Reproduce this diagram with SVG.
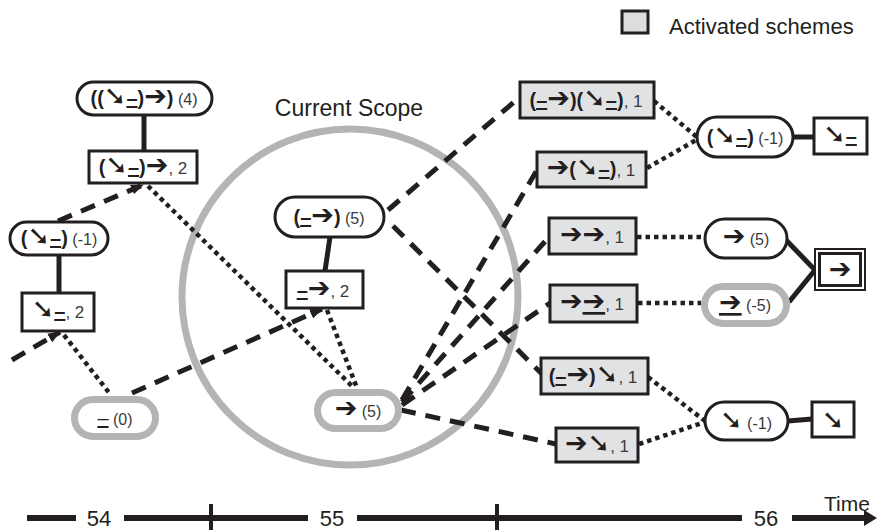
<svg xmlns="http://www.w3.org/2000/svg" width="877" height="530" viewBox="0 0 877 530">
<defs>
<style>
text{font-family:'Liberation Sans','DejaVu Sans',sans-serif;fill:#231f20}
.s{font-weight:bold;font-size:20px}
.a{font-family:'DejaVu Sans',sans-serif;font-weight:bold;font-size:27px}
.n{font-size:16px;fill:#3a3a3a}
.c{font-size:17px;fill:#3a3a3a}
.pill{fill:#fff;stroke:#231f20;stroke-width:3}
.gpill{fill:#fff;stroke:#b3b4b6;stroke-width:7}
.box{fill:#fff;stroke:#231f20;stroke-width:3}
.act{fill:#e1e2e4;stroke:#231f20;stroke-width:3}
.solid{stroke:#231f20;stroke-width:5;fill:none}
.dash{stroke:#231f20;stroke-width:5;stroke-dasharray:15 10;fill:none}
.dot{stroke:#231f20;stroke-width:4.5;stroke-dasharray:4.5 4;fill:none}
.tl{stroke:#231f20;stroke-width:6}
.big{font-size:22px}
</style>
<marker id="ah" markerUnits="userSpaceOnUse" markerWidth="14" markerHeight="12" refX="12" refY="6" orient="auto">
<path d="M0,1 L13,6 L0,11 z" fill="#231f20"/>
</marker>
</defs>

<g id="legend">
<rect x="622" y="11" width="26" height="22" fill="#dcdddf" stroke="#231f20" stroke-width="3"/>
<text x="669" y="34" class="big">Activated schemes</text>
</g>

<g id="scope">
<circle cx="350" cy="297" r="168" fill="none" stroke="#b3b4b6" stroke-width="7"/>
<text x="349" y="116" class="big" text-anchor="middle" style="font-size:23px">Current Scope</text>
</g>

<g id="connectors">
<line class="solid" x1="144" y1="115" x2="144" y2="151"/>
<line class="solid" x1="59" y1="255" x2="59" y2="293"/>
<line class="solid" x1="330" y1="237" x2="325" y2="271"/>
<line class="solid" x1="793" y1="137" x2="814" y2="137"/>
<line class="solid" x1="786" y1="240" x2="815" y2="270"/>
<line class="solid" x1="789" y1="302" x2="815" y2="270"/>
<line class="solid" x1="788" y1="421" x2="812" y2="419"/>

<line class="dash" x1="58" y1="221" x2="143" y2="185" marker-end="url(#ah)"/>
<line class="dash" x1="12" y1="360" x2="60" y2="332" marker-end="url(#ah)"/>
<line class="dash" x1="132" y1="393" x2="322" y2="309" marker-end="url(#ah)"/>
<line class="dash" x1="388" y1="210" x2="521" y2="96"/>
<line class="dash" x1="393" y1="226" x2="543" y2="375"/>
<line class="dash" x1="402" y1="400" x2="537" y2="170"/>
<line class="dash" x1="402" y1="402" x2="549" y2="237"/>
<line class="dash" x1="402" y1="405" x2="550" y2="303"/>
<line class="dash" x1="401" y1="410" x2="556" y2="444"/>

<line class="dot" x1="148" y1="186" x2="354" y2="388"/>
<line class="dot" x1="327" y1="310" x2="357" y2="388"/>
<line class="dot" x1="64" y1="335" x2="110" y2="394"/>
<line class="dot" x1="654" y1="101" x2="698" y2="138"/>
<line class="dot" x1="647" y1="168" x2="698" y2="139"/>
<line class="dot" x1="637" y1="237" x2="705" y2="237"/>
<line class="dot" x1="638" y1="303" x2="701" y2="303"/>
<line class="dot" x1="648" y1="377" x2="705" y2="421"/>
<line class="dot" x1="639" y1="444" x2="705" y2="422"/>
</g>

<g id="n1"><rect class="pill" x="77" y="82" width="135" height="33" rx="16.5"/>
<text x="144" y="105" text-anchor="middle"><tspan class="s">((</tspan><tspan class="a">➘</tspan><tspan class="s" text-decoration="underline">–</tspan><tspan class="s">)</tspan><tspan class="a">➔</tspan><tspan class="s">)</tspan><tspan class="n"> (4)</tspan></text></g>

<g id="n2"><rect class="box" x="89" y="151" width="108" height="32"/>
<text x="143" y="174" text-anchor="middle"><tspan class="s">(</tspan><tspan class="a">➘</tspan><tspan class="s" text-decoration="underline">–</tspan><tspan class="s">)</tspan><tspan class="a">➔</tspan><tspan class="c">, 2</tspan></text></g>

<g id="n3"><rect class="pill" x="10" y="222" width="98" height="33" rx="16.5"/>
<text x="59" y="245" text-anchor="middle"><tspan class="s">(</tspan><tspan class="a">➘</tspan><tspan class="s" text-decoration="underline">–</tspan><tspan class="s">)</tspan><tspan class="n"> (-1)</tspan></text></g>

<g id="n4"><rect class="box" x="22" y="293" width="72" height="38"/>
<text x="58" y="318" text-anchor="middle"><tspan class="a">➘</tspan><tspan class="s" text-decoration="underline">–</tspan><tspan class="c">, 2</tspan></text></g>

<g id="n5"><rect class="gpill" x="74.5" y="399.5" width="81" height="37" rx="18.5"/>
<text x="115" y="425" text-anchor="middle"><tspan class="s" style="font-weight:normal" text-decoration="underline">–</tspan><tspan class="n"> (0)</tspan></text></g>

<g id="n6"><rect class="pill" x="275" y="197" width="109" height="40" rx="20"/>
<text x="329" y="224" text-anchor="middle"><tspan class="s">(</tspan><tspan class="s" text-decoration="underline">–</tspan><tspan class="a">➔</tspan><tspan class="s">)</tspan><tspan class="n"> (5)</tspan></text></g>

<g id="n7"><rect class="box" x="286" y="271" width="77" height="37"/>
<text x="323" y="297" text-anchor="middle"><tspan class="s" text-decoration="underline">–</tspan><tspan class="a">➔</tspan><tspan class="c">, 2</tspan></text></g>

<g id="n8"><rect class="gpill" x="317.5" y="392.5" width="81" height="36" rx="18"/>
<text x="358" y="417" text-anchor="middle"><tspan class="a">➔</tspan><tspan class="n"> (5)</tspan></text></g>

<g id="n9"><rect class="act" x="520" y="82" width="134" height="36"/>
<text x="586" y="107" text-anchor="middle"><tspan class="s">(</tspan><tspan class="s" text-decoration="underline">–</tspan><tspan class="a">➔</tspan><tspan class="s">)(</tspan><tspan class="a">➘</tspan><tspan class="s" text-decoration="underline">–</tspan><tspan class="s">)</tspan><tspan class="c">, 1</tspan></text></g>

<g id="n10"><rect class="act" x="537" y="152" width="109" height="35"/>
<text x="591" y="176" text-anchor="middle"><tspan class="a">➔</tspan><tspan class="s">(</tspan><tspan class="a">➘</tspan><tspan class="s" text-decoration="underline">–</tspan><tspan class="s">)</tspan><tspan class="c">, 1</tspan></text></g>

<g id="n11"><rect class="act" x="549" y="218" width="87" height="36"/>
<text x="592" y="243" text-anchor="middle"><tspan class="a">➔➔</tspan><tspan class="c">, 1</tspan></text></g>

<g id="n12"><rect class="act" x="550" y="285" width="87" height="37"/>
<text x="592" y="310" text-anchor="middle"><tspan class="a">➔</tspan><tspan class="a" text-decoration="underline">➔</tspan><tspan class="c">, 1</tspan></text></g>

<g id="n13"><rect class="act" x="541" y="358" width="107" height="36"/>
<text x="593" y="383" text-anchor="middle"><tspan class="s">(</tspan><tspan class="s" text-decoration="underline">–</tspan><tspan class="a">➔</tspan><tspan class="s">)</tspan><tspan class="a">➘</tspan><tspan class="c">, 1</tspan></text></g>

<g id="n14"><rect class="act" x="556" y="428" width="82" height="34"/>
<text x="597" y="452" text-anchor="middle"><tspan class="a">➔➘</tspan><tspan class="c">, 1</tspan></text></g>

<g id="n15"><rect class="pill" x="697" y="117" width="96" height="40" rx="20"/>
<text x="745" y="144" text-anchor="middle"><tspan class="s">(</tspan><tspan class="a">➘</tspan><tspan class="s" text-decoration="underline">–</tspan><tspan class="s">)</tspan><tspan class="n"> (-1)</tspan></text></g>

<g id="n16"><rect class="box" x="814" y="118" width="53" height="36"/>
<text x="840" y="143" text-anchor="middle"><tspan class="a">➘</tspan><tspan class="s" text-decoration="underline">–</tspan></text></g>

<g id="n17"><rect class="pill" x="705" y="219" width="82" height="39" rx="19.5"/>
<text x="746" y="245" text-anchor="middle"><tspan class="a">➔</tspan><tspan class="n"> (5)</tspan></text></g>

<g id="n18"><rect class="gpill" x="704.5" y="286.5" width="82" height="37" rx="18.5"/>
<text x="745" y="311" text-anchor="middle"><tspan class="a" text-decoration="underline">➔</tspan><tspan class="n"> (-5)</tspan></text></g>

<g id="n19"><rect x="815" y="249" width="50" height="41" fill="#fff" stroke="#231f20" stroke-width="2"/>
<rect x="819.5" y="253.5" width="41" height="32" fill="none" stroke="#231f20" stroke-width="3"/>
<text x="840" y="278" text-anchor="middle" class="a">➔</text></g>

<g id="n20"><rect class="pill" x="705" y="402" width="83" height="38" rx="19"/>
<text x="746" y="429" text-anchor="middle"><tspan class="a">➘</tspan><tspan class="n"> (-1)</tspan></text></g>

<g id="n21"><rect class="box" x="812" y="402" width="42" height="35"/>
<text x="833" y="429" text-anchor="middle" class="a">➘</text></g>

<g id="timeline">
<line class="tl" x1="27" y1="518" x2="76" y2="518"/>
<line class="tl" x1="124" y1="518" x2="308" y2="518"/>
<line class="tl" x1="357" y1="518" x2="742" y2="518"/>
<line class="tl" x1="792" y1="518" x2="866" y2="518"/>
<polygon points="864,510 877,518 864,526" fill="#231f20"/>
<line x1="211" y1="504" x2="211" y2="530" stroke="#231f20" stroke-width="4"/>
<line x1="497" y1="504" x2="497" y2="530" stroke="#231f20" stroke-width="4"/>
<text x="99" y="526" text-anchor="middle" class="big">54</text>
<text x="332" y="526" text-anchor="middle" class="big">55</text>
<text x="766" y="526" text-anchor="middle" class="big">56</text>
<text x="847" y="511" text-anchor="middle" style="font-size:21px">Time</text>
</g>
</svg>
